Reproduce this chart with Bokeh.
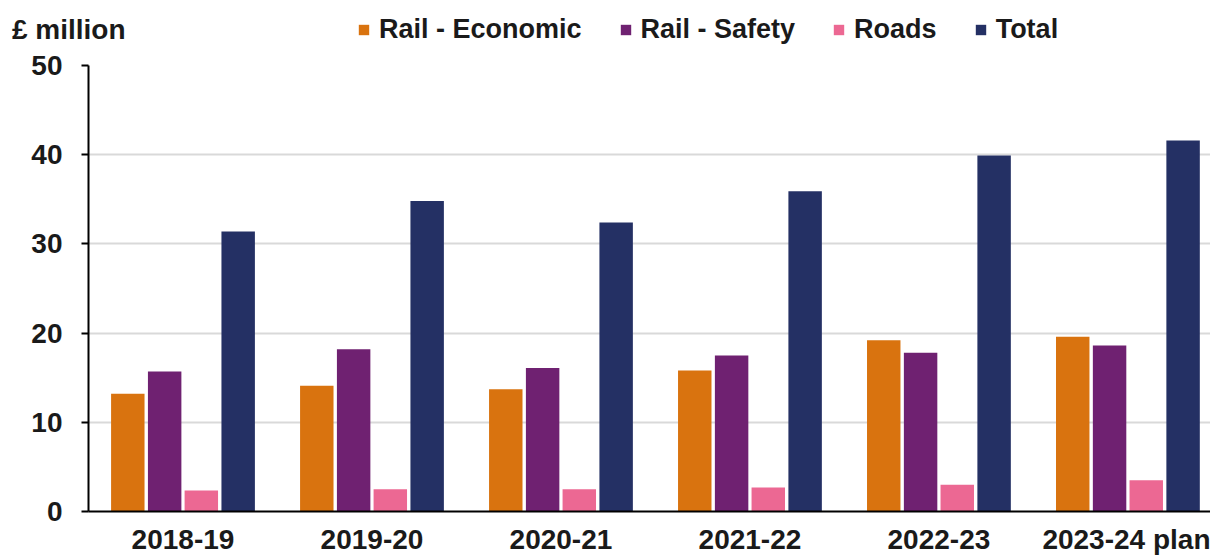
from bokeh.plotting import figure
from bokeh.models import ColumnDataSource, Range1d, Legend, LegendItem, FixedTicker
from bokeh.layouts import column
from bokeh.embed import file_html
from bokeh.resources import INLINE

years = ["2018-19", "2019-20", "2020-21", "2021-22", "2022-23", "2023-24 plan"]
rail_economic = [13.2, 14.1, 13.7, 15.8, 19.2, 19.6]
rail_safety = [15.7, 18.2, 16.1, 17.5, 17.8, 18.6]
roads = [2.35, 2.5, 2.5, 2.7, 3.0, 3.5]
total = [31.4, 34.8, 32.4, 35.9, 39.9, 41.6]
unit_label = "£ million"

series = [
    ("Rail - Economic", rail_economic, "#D9730F", -0.292),
    ("Rail - Safety", rail_safety, "#6F2171", -0.097),
    ("Roads", roads, "#EC6893", 0.097),
    ("Total", total, "#243064", 0.292),
]

FONT = "Liberation Sans"
TXT = "#1a1a1a"
W = 1210
HEAD_H = 45
LEFT = 88

# ---- header (unit label + legend) ----
head = figure(width=W, height=HEAD_H, output_backend="svg", toolbar_location=None,
              x_range=Range1d(0, W - LEFT), y_range=Range1d(0, HEAD_H),
              x_axis_type=None, min_border=0, min_border_left=LEFT)
head.outline_line_color = None
head.xgrid.grid_line_color = None
head.ygrid.grid_line_color = None
head.yaxis.ticker = FixedTicker(ticks=[15])
head.yaxis.major_label_overrides = {15: unit_label}
head.yaxis.axis_line_color = None
head.yaxis.major_tick_line_color = None
head.yaxis.minor_tick_line_color = None
head.yaxis.major_tick_out = 0
head.yaxis.major_label_standoff = -37
head.yaxis.major_label_text_font = FONT
head.yaxis.major_label_text_font_style = "bold"
head.yaxis.major_label_text_font_size = "28px"
head.yaxis.major_label_text_color = TXT

items = []
nan = float("nan")
for name, vals, color, off in series:
    dummy = head.quad(left=[nan], right=[nan], top=[nan], bottom=[nan],
                      fill_color=color, line_color=None)
    items.append(LegendItem(label=name, renderers=[dummy]))

legend = Legend(items=items, orientation="horizontal", location=(357 - LEFT, 0),
                label_text_font=FONT, label_text_font_style="bold",
                label_text_font_size="27px", label_text_color=TXT,
                glyph_width=13, glyph_height=13, spacing=37, label_standoff=9,
                border_line_color=None, background_fill_alpha=0, padding=0, margin=0)
head.add_layout(legend, "center")

# ---- main chart ----
p = figure(width=W, height=557 - HEAD_H, output_backend="svg", toolbar_location=None,
           x_range=Range1d(-0.5, 5.437), y_range=Range1d(0, 50),
           min_border_left=LEFT, min_border_right=0, min_border_top=20, min_border_bottom=46)
p.outline_line_color = None

idx = list(range(len(years)))
for name, vals, color, off in series:
    src = ColumnDataSource(dict(x=[i + off for i in idx], top=vals))
    p.vbar(x="x", top="top", width=0.177, bottom=0, source=src,
           fill_color=color, line_color=None)

p.xaxis.ticker = FixedTicker(ticks=idx)
p.xaxis.major_label_overrides = {i: y for i, y in enumerate(years)}
p.xaxis.major_tick_line_color = None
p.xaxis.minor_tick_line_color = None
p.xaxis.axis_line_color = "black"
p.xaxis.axis_line_width = 2
p.xaxis.major_label_text_font = FONT
p.xaxis.major_label_text_font_style = "bold"
p.xaxis.major_label_text_font_size = "28px"
p.xaxis.major_label_text_color = TXT
p.xaxis.major_label_standoff = 6

p.yaxis.ticker = FixedTicker(ticks=[0, 10, 20, 30, 40, 50])
p.yaxis.minor_tick_line_color = None
p.yaxis.axis_line_color = "black"
p.yaxis.axis_line_width = 2
p.yaxis.major_tick_line_color = "black"
p.yaxis.major_tick_line_width = 2
p.yaxis.major_tick_out = 7
p.yaxis.major_tick_in = 0
p.yaxis.major_label_text_font = FONT
p.yaxis.major_label_text_font_style = "bold"
p.yaxis.major_label_text_font_size = "28px"
p.yaxis.major_label_text_color = TXT
p.yaxis.major_label_standoff = 19

p.xgrid.grid_line_color = None
p.ygrid.grid_line_color = "#d9d9d9"
p.ygrid.grid_line_width = 2

layout = column(head, p, spacing=0)
open("out.html", "w").write(file_html(layout, INLINE))
